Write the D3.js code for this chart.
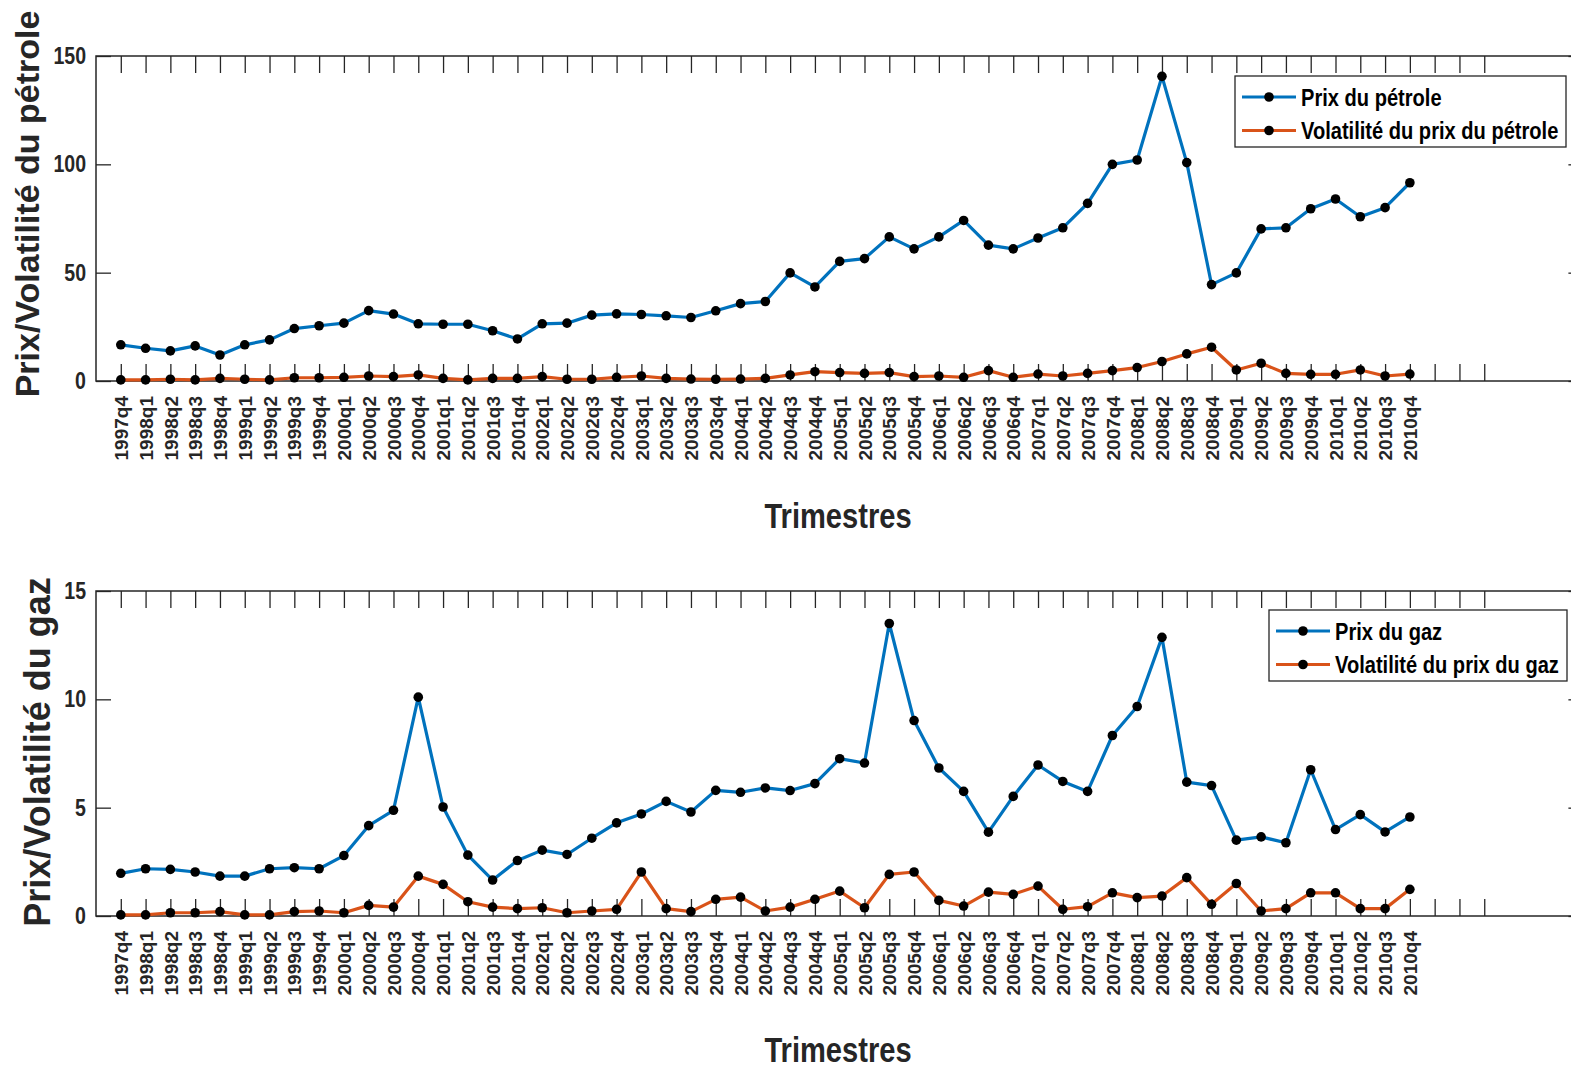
<!DOCTYPE html>
<html>
<head>
<meta charset="utf-8">
<script src="https://cdn.jsdelivr.net/npm/d3@7"></script>
<style>
body { margin: 0; background: #fff; }
svg { display: block; }
</style>
</head>
<body>
<div id="mainDiv"></div>
<script>
'use strict';

var quarters = ["1997q4",
    "1998q1", "1998q2", "1998q3", "1998q4", "1999q1", "1999q2", "1999q3", "1999q4",
    "2000q1", "2000q2", "2000q3", "2000q4", "2001q1", "2001q2", "2001q3", "2001q4",
    "2002q1", "2002q2", "2002q3", "2002q4", "2003q1", "2003q2", "2003q3", "2003q4",
    "2004q1", "2004q2", "2004q3", "2004q4", "2005q1", "2005q2", "2005q3", "2005q4",
    "2006q1", "2006q2", "2006q3", "2006q4", "2007q1", "2007q2", "2007q3", "2007q4",
    "2008q1", "2008q2", "2008q3", "2008q4", "2009q1", "2009q2", "2009q3", "2009q4",
    "2010q1", "2010q2", "2010q3", "2010q4"];

var oilPrice = [16.7,
    15.1, 13.9, 16.2, 12.0, 16.7, 19.0, 24.2, 25.5,
    26.7, 32.5, 30.9, 26.4, 26.2, 26.2, 23.2, 19.4,
    26.4, 26.7, 30.4, 31.0, 30.7, 30.1, 29.3, 32.4,
    35.7, 36.7, 49.9, 43.4, 55.2, 56.5, 66.5, 61.0,
    66.5, 74.1, 62.7, 61.0, 66.0, 70.7, 82.0, 100.0,
    102.0, 140.6, 100.8, 44.5, 49.9, 70.2, 70.7, 79.5,
    84.0, 75.8, 80.0, 91.5];

var oilVol = [0.5,
    0.5, 0.8, 0.5, 1.2, 0.8, 0.5, 1.5, 1.5,
    1.7, 2.3, 2.0, 2.8, 1.2, 0.5, 1.2, 1.2,
    2.0, 0.8, 0.8, 1.7, 2.3, 1.2, 0.9, 0.8,
    0.9, 1.2, 2.8, 4.3, 3.9, 3.5, 3.9, 2.0,
    2.3, 1.7, 4.8, 1.7, 3.2, 2.3, 3.5, 4.8,
    6.2, 9.0, 12.5, 15.6, 5.1, 8.2, 3.5, 3.1,
    3.1, 5.1, 2.3, 3.2];

var gasPrice = [1.97,
    2.18, 2.15, 2.03, 1.84, 1.84, 2.18, 2.23, 2.18,
    2.79, 4.17, 4.88, 10.1, 5.03, 2.81, 1.66, 2.56,
    3.04, 2.84, 3.59, 4.30, 4.71, 5.29, 4.80, 5.80,
    5.71, 5.91, 5.79, 6.11, 7.26, 7.06, 13.5, 9.02,
    6.83, 5.75, 3.87, 5.52, 6.97, 6.21, 5.75, 8.33,
    9.67, 12.86, 6.18, 6.02, 3.50, 3.65, 3.38, 6.75,
    3.99, 4.68, 3.88, 4.57];

var gasVol = [0.05,
    0.05, 0.15, 0.15, 0.20, 0.05, 0.05, 0.20, 0.23,
    0.15, 0.49, 0.41, 1.84, 1.46, 0.66, 0.41, 0.34,
    0.38, 0.15, 0.23, 0.31, 2.03, 0.34, 0.20, 0.77,
    0.87, 0.23, 0.41, 0.77, 1.15, 0.38, 1.92, 2.03,
    0.72, 0.46, 1.10, 1.00, 1.38, 0.31, 0.43, 1.07,
    0.85, 0.92, 1.77, 0.54, 1.50, 0.23, 0.34, 1.07,
    1.07, 0.34, 0.34, 1.23];

var oilTicks = [0, 50, 100, 150];
var gasTicks = [0, 5, 10, 15];
var oilLegend = ["Prix du pétrole", "Volatilité du prix du pétrole"];
var gasLegend = ["Prix du gaz", "Volatilité du prix du gaz"];

var myApp = {};

myApp.font = '"Liberation Sans", Arial, Helvetica, sans-serif';
myApp.colors = ["#0072bd", "#d95319"];
myApp.ink = "#262626";

myApp.appendSvg = function(element, w, h)
{
    var node = d3.select(element).append("svg")
        .attr("width", w)
        .attr("height", h);
    node.append("rect").attr("width", w).attr("height", h).attr("fill", "#fff");
    return node;
}

// no narrow face installed: squeeze the bold face horizontally
myApp.narrowText = function(sel, x, y, size, squeeze)
{
    sel.attr("x", 0).attr("y", 0)
        .attr("transform", "translate(" + x + "," + y + ") scale(" + squeeze + ",1)")
        .attr("font-family", myApp.font)
        .attr("font-weight", "bold")
        .attr("font-size", size + "px");
}

myApp.drawPanel = function(svg, cfg)
{
    var left = 96, right = 1583.4;
    var x = d3.scaleLinear().domain([0, 60]).range([left, right]);
    var y = d3.scaleLinear().domain([0, cfg.yMax]).range([cfg.bottom, cfg.top]);
    var g = svg.append("g");
    var allTicks = d3.range(1, 57);

    // bottom axis with rotated labels
    var xb = g.append("g")
        .attr("transform", "translate(0," + cfg.bottom + ")")
        .call(d3.axisBottom(x).tickValues(allTicks).tickSize(-17).tickSizeOuter(0)
            .tickFormat(function(d) { return quarters[d - 1] || ""; }));
    xb.selectAll("text")
        .attr("transform", "rotate(-90)")
        .attr("x", -15)
        .attr("y", 0)
        .attr("dy", "0.35em")
        .attr("text-anchor", "end")
        .attr("font-family", myApp.font)
        .attr("font-weight", "bold")
        .attr("font-size", "19px")
        .attr("fill", myApp.ink);

    g.append("g")
        .attr("transform", "translate(0," + cfg.top + ")")
        .call(d3.axisTop(x).tickValues(allTicks).tickSize(-17).tickSizeOuter(0).tickFormat(""));

    var yl = g.append("g")
        .attr("transform", "translate(" + left + ",0)")
        .call(d3.axisLeft(y).tickValues(cfg.yTicks).tickSize(-15).tickSizeOuter(0).tickPadding(10));
    yl.selectAll("text").each(function() {
        myApp.narrowText(d3.select(this), -10, 0, 23, 0.85);
    });
    yl.selectAll("text").attr("fill", myApp.ink);

    g.append("g")
        .attr("transform", "translate(" + right + ",0)")
        .call(d3.axisRight(y).tickValues(cfg.yTicks).tickSize(-15).tickSizeOuter(0).tickFormat(""));

    g.selectAll(".domain").remove();
    g.selectAll(".tick line").attr("stroke", myApp.ink).attr("stroke-width", 1.3);

    g.append("rect")
        .attr("x", left).attr("y", cfg.top)
        .attr("width", right - left).attr("height", cfg.bottom - cfg.top)
        .attr("fill", "none").attr("stroke", myApp.ink).attr("stroke-width", 1.5);

    // series
    var line = d3.line()
        .x(function(d, i) { return x(i + 1); })
        .y(function(d) { return y(d); });

    cfg.series.forEach(function(s, k) {
        g.append("path")
            .datum(s)
            .attr("d", line)
            .attr("fill", "none")
            .attr("stroke", myApp.colors[k])
            .attr("stroke-width", 3.2)
            .attr("stroke-linejoin", "round");
        g.selectAll(null)
            .data(s)
            .enter()
            .append("circle")
                .attr("cx", function(d, i) { return x(i + 1); })
                .attr("cy", function(d) { return y(d); })
                .attr("r", 4.8)
                .attr("fill", "#000");
    });

    // legend
    var lg = cfg.legend;
    g.append("rect")
        .attr("x", lg.x).attr("y", lg.y)
        .attr("width", lg.w).attr("height", lg.h)
        .attr("fill", "#fff").attr("stroke", myApp.ink).attr("stroke-width", 1.3);
    cfg.labels.forEach(function(t, k) {
        var ly = lg.y + 21 + k * 33.5;
        g.append("line")
            .attr("x1", lg.x + 7).attr("x2", lg.x + 61)
            .attr("y1", ly).attr("y2", ly)
            .attr("stroke", myApp.colors[k]).attr("stroke-width", 3.2);
        g.append("circle")
            .attr("cx", lg.x + 34).attr("cy", ly).attr("r", 4.8).attr("fill", "#000");
        var txt = g.append("text")
            .attr("dy", "0.35em")
            .attr("fill", "#000")
            .text(t);
        myApp.narrowText(txt, lg.x + 66, ly, 24.5, 0.82);
    });

    // axis titles
    g.append("text")
        .attr("transform", "translate(" + cfg.yTitleX + "," + cfg.yTitleY + ") rotate(-90)")
        .attr("text-anchor", "middle")
        .attr("font-family", myApp.font)
        .attr("font-weight", "bold")
        .attr("font-size", cfg.yTitleSize + "px")
        .attr("fill", myApp.ink)
        .text(cfg.yTitle);

    var xt = g.append("text")
        .attr("text-anchor", "middle")
        .attr("fill", myApp.ink)
        .text("Trimestres");
    myApp.narrowText(xt, 838, cfg.xTitleY, 35.5, 0.82);
}

myApp.run = function()
{
    var svg = myApp.appendSvg("#mainDiv", 1571, 1069);
    myApp.drawPanel(svg, {
        top: 56, bottom: 381, yMax: 150, yTicks: oilTicks,
        series: [oilPrice, oilVol], labels: oilLegend,
        legend: { x: 1235, y: 76, w: 331, h: 71 },
        yTitle: "Prix/Volatilité du pétrole", yTitleX: 39, yTitleY: 204, yTitleSize: 34,
        xTitleY: 528
    });
    myApp.drawPanel(svg, {
        top: 591, bottom: 916, yMax: 15, yTicks: gasTicks,
        series: [gasPrice, gasVol], labels: gasLegend,
        legend: { x: 1269, y: 610, w: 298, h: 71 },
        yTitle: "Prix/Volatilité du gaz", yTitleX: 50, yTitleY: 752, yTitleSize: 36,
        xTitleY: 1062
    });
}

window.onload = myApp.run;
</script>
</body>
</html>
